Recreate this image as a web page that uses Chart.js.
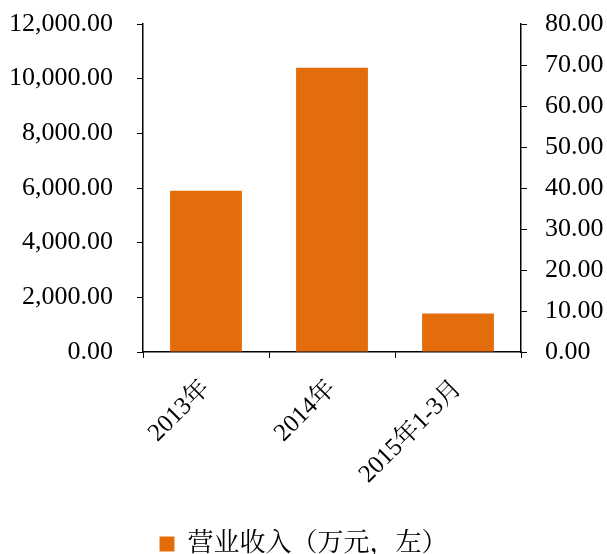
<!DOCTYPE html>
<html><head><meta charset="utf-8">
<script src="https://cdn.jsdelivr.net/npm/chart.js@4/dist/chart.umd.min.js"></script>
<style>html,body{margin:0;padding:0;background:#fff}#wrap{width:607px;height:554px}</style>
</head><body><div id="wrap"><canvas id="c" width="607" height="554"></canvas></div>
<script>
const categories = ['2013年', '2014年', '2015年1-3月'];
const revenue = [5900, 10400, 1410];
const seriesName = '营业收入（万元，左）';
const leftTicks = [0, 2000, 4000, 6000, 8000, 10000, 12000];
const rightTicks = [0, 10, 20, 30, 40, 50, 60, 70, 80];

const FONT = "'Liberation Serif', 'Noto Serif CJK SC', 'Noto Sans CJK SC', serif";
const fmt = v => Number(v).toLocaleString('en-US', {minimumFractionDigits: 2, maximumFractionDigits: 2});

const legendShift = {
  id: 'legendShift',
  afterLayout(chart) {
    const L = chart.legend;
    if (L) { L.top += 13; L.bottom += 13; }
  }
};

new Chart(document.getElementById('c'), {
  type: 'bar',
  data: {
    labels: categories,
    datasets: [{
      label: seriesName,
      data: revenue,
      backgroundColor: '#E36C0B',
      borderWidth: 0,
      categoryPercentage: 1,
      barPercentage: 0.57,
      yAxisID: 'y'
    }]
  },
  plugins: [legendShift],
  options: {
    responsive: false,
    animation: false,
    devicePixelRatio: 1,
    layout: {padding: {top: 24, left: 0, right: 0, bottom: 0}},
    plugins: {
      tooltip: {enabled: false},
      legend: {
        position: 'bottom',
        labels: {
          font: {family: FONT, size: 26, lineHeight: 1},
          color: '#000',
          boxWidth: 15, boxHeight: 15,
          padding: 2
        }
      }
    },
    scales: {
      x: {
        grid: {display: true, drawOnChartArea: false, drawTicks: true, tickLength: 6, color: '#000', offset: true},
        border: {display: true, color: '#000', width: 1.5},
        ticks: {font: {family: FONT, size: 25}, color: '#000', maxRotation: 45, minRotation: 45, padding: 16},
        afterFit: s => { s.height = 164; s.paddingLeft = 0; s.paddingRight = 0; }
      },
      y: {
        position: 'left',
        min: 0, max: 12000,
        afterBuildTicks: s => { s.ticks = leftTicks.map(v => ({value: v})); },
        grid: {display: true, drawOnChartArea: false, drawTicks: true, tickLength: 6, color: '#000'},
        border: {display: true, color: '#000', width: 1.5},
        ticks: {font: {family: FONT, size: 26}, color: '#000', padding: 24, callback: v => fmt(v)},
        afterFit: s => { s.width = 143; s.paddingTop = 0; s.paddingBottom = 0; }
      },
      y1: {
        position: 'right',
        min: 0, max: 80,
        afterBuildTicks: s => { s.ticks = rightTicks.map(v => ({value: v})); },
        grid: {display: true, drawOnChartArea: false, drawTicks: true, tickLength: 6, color: '#000'},
        border: {display: true, color: '#000', width: 1.5},
        ticks: {font: {family: FONT, size: 26}, color: '#000', padding: 18, callback: v => fmt(v)},
        afterFit: s => { s.width = 86; s.paddingTop = 0; s.paddingBottom = 0; }
      }
    }
  }
});
</script></body></html>
